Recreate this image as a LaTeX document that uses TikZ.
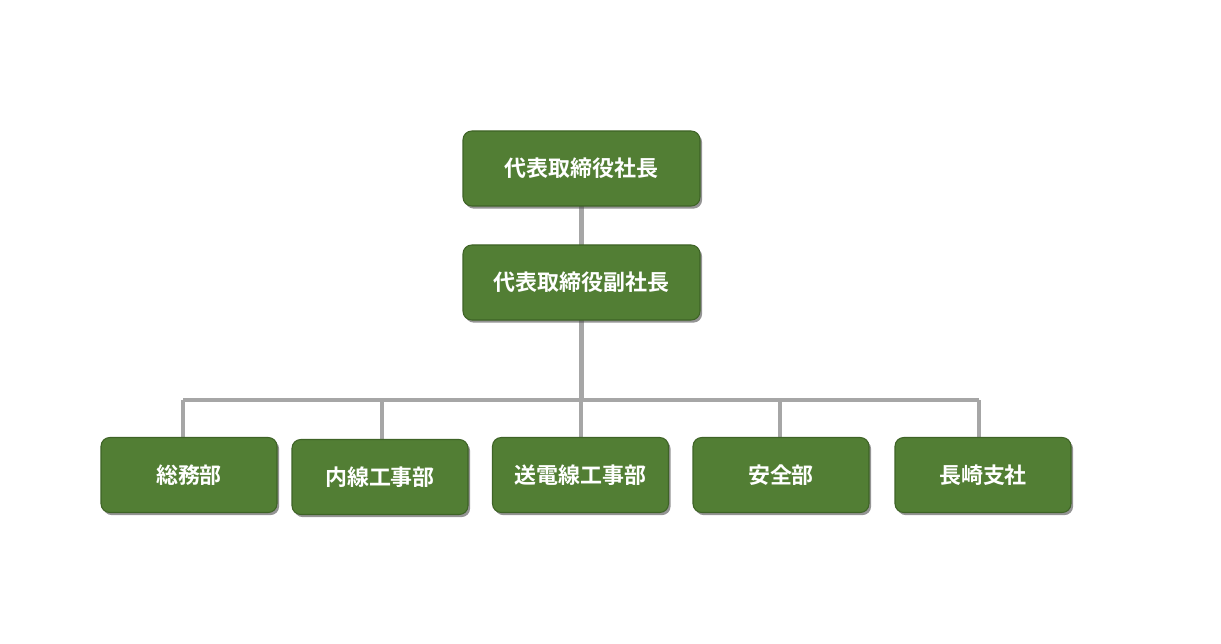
\documentclass[tikz,border=0pt]{standalone}
\usepackage{fontspec}
\newfontfamily\cjk{Noto Sans CJK JP Bold}
\usetikzlibrary{shadows}
\definecolor{boxgreen}{HTML}{527E34}
\definecolor{boxedge}{HTML}{3E6326}
\definecolor{linegray}{HTML}{A6A6A6}
\tikzset{
  post/.style={rectangle, rounded corners=5pt, fill=boxgreen, draw=boxedge, line width=0.6pt,
    minimum width=#1, minimum height=1.5cm, text=white, font=\cjk\fontsize{12.5}{14}\selectfont,
    drop shadow={shadow xshift=1.2pt, shadow yshift=-1.5pt, fill=black!70, opacity=0.6}},
  post/.default=3.52cm,
  link/.style={draw=linegray, line width=2.3pt}
}
\begin{document}
\begin{tikzpicture}
    \useasboundingbox (0,0) rectangle (24.42,-12.88);
    \draw [link] (11.63,-3.37) -- (11.63,-5.65);
    \draw [link] (11.63,-5.65) -- (11.63,-8.0);
    \draw [link] (3.66,-8.0)   -- (19.58,-8.0);
    \foreach \x in {3.66,7.64,11.62,15.6,19.58}
      \draw [link] (\x,-8.0) -- (\x,-9.2);
    \node [post=4.74cm] (ceo)  at (11.63,-3.37) {代表取締役社長};
    \node [post=4.74cm] (vice) at (11.63,-5.65) {代表取締役副社長};
    \node [post] (soumu)   at (3.78,-9.5)   {総務部};
    \node [post] (naisen)  at (7.6,-9.54)   {内線工事部};
    \node [post] (souden)  at (11.61,-9.5)  {送電線工事部};
    \node [post] (anzen)   at (15.62,-9.5)  {安全部};
    \node [post] (nagasaki) at (19.66,-9.5) {長崎支社};
\end{tikzpicture}
\end{document}
